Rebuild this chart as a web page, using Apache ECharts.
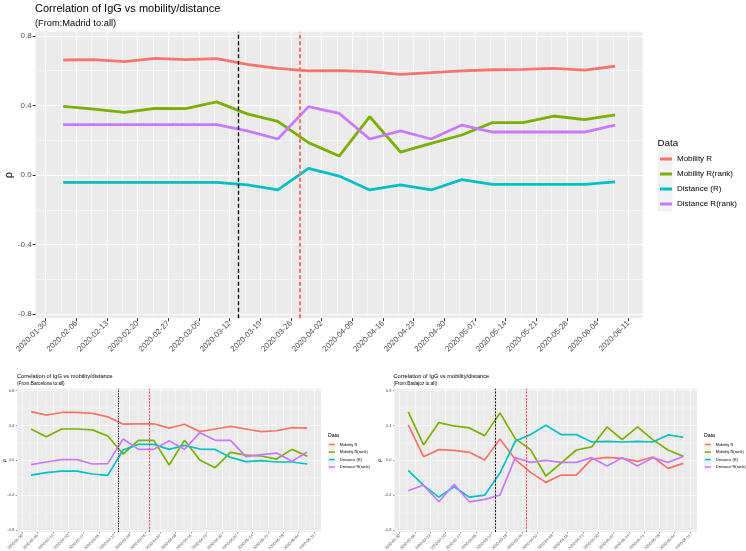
<!DOCTYPE html>
<html><head><meta charset="utf-8">
<script src="https://cdn.jsdelivr.net/npm/echarts@6/dist/echarts.min.js"></script>
<style>html,body{margin:0;padding:0;background:#fff}#c{width:746px;height:551px}</style>
</head><body><div id="c"></div>
<script>
// ---------- DATA ----------
const seriesNames = ['Mobility R', 'Mobility R(rank)', 'Distance (R)', 'Distance R(rank)'];
const seriesColors = ['#F8766D', '#7CAE00', '#00BFC4', '#C77CFF'];
const dataDates = ['2020-02-03','2020-02-10','2020-02-17','2020-02-24','2020-03-02','2020-03-09','2020-03-16','2020-03-23','2020-03-30','2020-04-06','2020-04-13','2020-04-20','2020-04-27','2020-05-04','2020-05-11','2020-05-18','2020-05-25','2020-06-01','2020-06-08'];
const tickDates = ['2020-01-30','2020-02-06','2020-02-13','2020-02-20','2020-02-27','2020-03-05','2020-03-12','2020-03-19','2020-03-26','2020-04-02','2020-04-09','2020-04-16','2020-04-23','2020-04-30','2020-05-07','2020-05-14','2020-05-21','2020-05-28','2020-06-04','2020-06-11'];
const phaseDates = ['2020-03-14', '2020-03-28'];
const yMajorTicks = [-0.8, -0.4, 0, 0.4, 0.8];
const yMinorTicks = [-0.6, -0.2, 0.2, 0.6];
const yLimits = [-0.823, 0.823];

const madridMobilityR    = [0.661,0.663,0.651,0.670,0.663,0.669,0.636,0.613,0.598,0.600,0.594,0.578,0.588,0.598,0.605,0.607,0.613,0.603,0.625];
const madridMobilityRank = [0.395,0.379,0.360,0.383,0.381,0.420,0.351,0.308,0.186,0.109,0.335,0.132,0.182,0.230,0.301,0.301,0.339,0.318,0.345];
const madridDistanceR    = [-0.042,-0.042,-0.042,-0.042,-0.042,-0.042,-0.057,-0.086,0.038,-0.006,-0.086,-0.057,-0.086,-0.027,-0.054,-0.054,-0.054,-0.054,-0.040];
const madridDistanceRank = [0.289,0.289,0.289,0.289,0.289,0.289,0.253,0.207,0.393,0.354,0.207,0.253,0.207,0.287,0.247,0.247,0.247,0.247,0.287];

const bcnMobilityR    = [0.56,0.52,0.55,0.55,0.54,0.50,0.415,0.42,0.42,0.37,0.415,0.33,0.36,0.39,0.36,0.33,0.34,0.375,0.37];
const bcnMobilityRank = [0.36,0.27,0.36,0.36,0.35,0.28,0.073,0.23,0.23,-0.054,0.23,0.004,-0.084,0.092,0.061,0.05,0.015,0.126,0.046];
const bcnDistanceR    = [-0.169,-0.142,-0.123,-0.123,-0.157,-0.172,0.119,0.184,0.184,0.126,0.172,0.13,0.126,0.034,-0.015,-0.004,-0.019,-0.019,-0.042];
const bcnDistanceRank = [-0.05,-0.019,0.008,0.008,-0.042,-0.038,0.245,0.126,0.126,0.226,0.126,0.318,0.23,0.23,0.042,0.065,0.084,-0.011,0.096];

const bdjMobilityR    = [0.407,0.042,0.123,0.115,0.092,0.004,0.246,0.012,-0.138,-0.253,-0.169,-0.169,0.015,0.035,0.023,-0.012,0.038,-0.092,-0.035];
const bdjMobilityRank = [0.557,0.177,0.434,0.395,0.372,0.284,0.545,0.25,0.123,-0.18,-0.031,0.119,0.154,0.384,0.238,0.384,0.238,0.119,0.046];
const bdjDistanceR    = [-0.115,-0.288,-0.422,-0.303,-0.422,-0.4,-0.146,0.219,0.296,0.403,0.296,0.296,0.211,0.219,0.211,0.219,0.211,0.292,0.265];
const bdjDistanceRank = [-0.349,-0.284,-0.476,-0.276,-0.476,-0.449,-0.4,0.031,-0.023,0.0,-0.023,-0.023,0.031,-0.065,0.031,-0.065,0.031,-0.023,0.046];

// ---------- HELPERS ----------
const FONT = 'Liberation Sans, Arial, Helvetica, sans-serif';
function dayNum(s) { const p = s.split('-').map(Number); return Math.round((Date.UTC(p[0], p[1]-1, p[2]) - Date.UTC(2020, 0, 30)) / 86400000); }
const dataDays = dataDates.map(dayNum);
const tickDays = tickDates.map(dayNum);
const minorDays = tickDays.slice(1).map((d, i) => (d + tickDays[i]) / 2);
const phaseDays = phaseDates.map(dayNum);
const tickMap = {}; tickDays.forEach((d, i) => { tickMap[d] = tickDates[i]; });
const span = dataDays[dataDays.length-1] - dataDays[0];
const xMin = dataDays[0] - 0.05 * span, xMax = dataDays[dataDays.length-1] + 0.05 * span;

const panels = [
  { grid: {left: 35.6, top: 31.8, width: 607.1, height: 286.4}, s: 1,
    values: [madridMobilityR, madridMobilityRank, madridDistanceR, madridDistanceRank],
    lw: 2.8, major: 1.1, minor: 0.55, tick: 3, xFont: 7.8, yFont: 8, nameFont: 11, nameGap: 27,
    vl: [{color:'#000', width:1.3, dash:[4,2.5]}, {color:'#F8766D', width:2, dash:[4,2.5]}] },
  { grid: {left: 17.2, top: 388.7, width: 303.9, height: 143.3}, s: 0.5,
    values: [bcnMobilityR, bcnMobilityRank, bcnDistanceR, bcnDistanceRank],
    lw: 1.7, major: 0.6, minor: 0.3, tick: 1.5, xFont: 3.9, yFont: 4, nameFont: 5.5, nameGap: 13,
    vl: [{color:'#222', width:0.9, dash:[1.5,1]}, {color:'#FF2020', width:0.8, dash:[2,1.3]}] },
  { grid: {left: 394.5, top: 388.7, width: 302.6, height: 143.3}, s: 0.5,
    values: [bdjMobilityR, bdjMobilityRank, bdjDistanceR, bdjDistanceRank],
    lw: 1.7, major: 0.6, minor: 0.3, tick: 1.5, xFont: 3.9, yFont: 4, nameFont: 5.5, nameGap: 15.5,
    vl: [{color:'#000', width:0.9, dash:[2,1.3]}, {color:'#FF2020', width:0.8, dash:[2,1.3]}] }
];

const grids = [], xAxes = [], yAxes = [], series = [];
panels.forEach((p, pi) => {
  grids.push(Object.assign({show: true, backgroundColor: '#EBEBEB', borderWidth: 0, containLabel: false, outerBoundsMode: 'none'}, p.grid));
  // major x
  xAxes.push({ type: 'value', gridIndex: pi, min: xMin, max: xMax, position: 'bottom',
    axisLine: {show: false, onZero: false},
    axisTick: {show: true, customValues: tickDays, length: p.tick, lineStyle: {color: '#333', width: p.s}},
    axisLabel: {show: true, customValues: tickDays, rotate: 45, fontSize: p.xFont, color: '#4D4D4D', fontFamily: FONT,
      margin: 2 + 2 * p.s, formatter: v => tickMap[Math.round(v)] || ''},
    splitLine: {show: true, lineStyle: {color: '#FFFFFF', width: p.major}} });
  // minor x
  xAxes.push({ type: 'value', gridIndex: pi, min: xMin, max: xMax, position: 'bottom',
    axisLine: {show: false, onZero: false}, axisTick: {show: false, customValues: minorDays}, axisLabel: {show: false, customValues: minorDays},
    splitLine: {show: true, lineStyle: {color: '#FFFFFF', width: p.minor}} });
  // major y
  yAxes.push({ type: 'value', gridIndex: pi, min: yLimits[0], max: yLimits[1], position: 'left',
    name: 'ρ', nameLocation: 'middle', nameRotate: 90, nameGap: p.nameGap, nameMoveOverlap: false,
    nameTextStyle: {fontSize: p.nameFont, color: '#000', fontFamily: FONT, align: 'center', verticalAlign: 'middle'},
    axisLine: {show: false, onZero: false},
    axisTick: {show: true, customValues: yMajorTicks, length: p.tick, lineStyle: {color: '#333', width: p.s}},
    axisLabel: {show: true, customValues: yMajorTicks, fontSize: p.yFont, color: '#4D4D4D', fontFamily: FONT, margin: 2 + 2 * p.s,
      formatter: v => v.toFixed(1)},
    splitLine: {show: true, lineStyle: {color: '#FFFFFF', width: p.major}} });
  // minor y
  yAxes.push({ type: 'value', gridIndex: pi, min: yLimits[0], max: yLimits[1], position: 'left',
    axisLine: {show: false, onZero: false}, axisTick: {show: false, customValues: yMinorTicks}, axisLabel: {show: false, customValues: yMinorTicks},
    splitLine: {show: true, lineStyle: {color: '#FFFFFF', width: p.minor}} });

  p.values.forEach((vals, si) => {
    const ser = { type: 'line', name: seriesNames[si], xAxisIndex: pi * 2, yAxisIndex: pi * 2,
      data: dataDays.map((d, j) => [d, vals[j]]), showSymbol: false, symbol: 'none',
      lineStyle: {color: seriesColors[si], width: p.lw}, itemStyle: {color: seriesColors[si]},
      z: 3, silent: true, animation: false };
    if (si === seriesNames.length - 1) {
      ser.markLine = { silent: true, symbol: ['none', 'none'], label: {show: false}, animation: false,
        data: phaseDays.map((d, k) => ({ xAxis: d, lineStyle: {color: p.vl[k].color, width: p.vl[k].width, type: p.vl[k].dash} })) };
    }
    series.push(ser);
  });
});

const titles = [
  {text: 'Correlation of IgG vs mobility/distance', left: 35, top: 3, size: 11},
  {text: '(From:Madrid to:all)', left: 35, top: 18.5, size: 9.3},
  {text: 'Data', left: 657.5, top: 138, size: 9.8},
  {text: 'Correlation of IgG vs mobility/distance', left: 17, top: 373, size: 5.7},
  {text: '(From:Barcelona to:all)', left: 17, top: 381.5, size: 4.7},
  {text: 'Data', left: 328, top: 433, size: 5.2},
  {text: 'Correlation of IgG vs mobility/distance', left: 393.5, top: 373, size: 5.7},
  {text: '(From:Badajoz to:all)', left: 393.5, top: 381.5, size: 4.7},
  {text: 'Data', left: 704, top: 433, size: 5.2}
].map(t => ({text: t.text, left: t.left, top: t.top, padding: 0,
  textStyle: {fontSize: t.size, fontWeight: 'normal', color: '#000', fontFamily: FONT}}));

const legendSpecs = [
  {left: 660, top: 151.5, w: 12, h: 3, row: 15, font: 8},
  {left: 328.8, top: 440.8, w: 6, h: 1.5, row: 7.5, font: 4},
  {left: 704.8, top: 440.8, w: 6, h: 1.5, row: 7.5, font: 4}
];
const legends = legendSpecs.map(l => ({
  orient: 'vertical', left: l.left, top: l.top, padding: 0, itemGap: 0,
  itemWidth: l.w, itemHeight: l.h, icon: 'rect', selectedMode: false,
  data: seriesNames,
  textStyle: {fontSize: l.font, color: '#000', fontFamily: FONT, lineHeight: l.row}
}));
const keyBgs = [
  {x: 657.5, y: 151.5, w: 15, h: 60},
  {x: 327.8, y: 440.8, w: 7.5, h: 30},
  {x: 703.8, y: 440.8, w: 7.5, h: 30}
];

const chart = echarts.init(document.getElementById('c'), null, {renderer: 'canvas'});
chart.setOption({
  animation: false,
  backgroundColor: '#FFFFFF',
  title: titles,
  legend: legends,
  grid: grids,
  xAxis: xAxes,
  yAxis: yAxes,
  series: series,
  graphic: keyBgs.map(b => ({type: 'rect', z: -1, silent: true, shape: {x: b.x, y: b.y, width: b.w, height: b.h}, style: {fill: '#F2F2F2'}}))
});
</script></body></html>
